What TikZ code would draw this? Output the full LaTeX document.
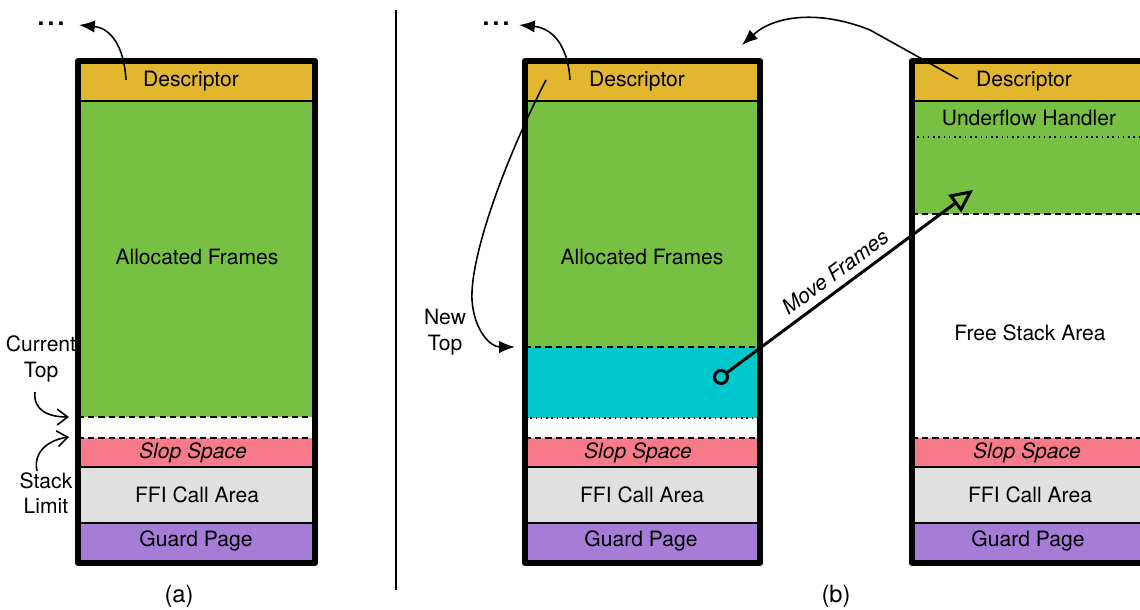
\documentclass[tikz,border=0pt]{standalone}
\usepackage{fontspec}
\setmainfont{TeX Gyre Heros}
\usetikzlibrary{arrows.meta}
\definecolor{descC}{HTML}{E3B630}
\definecolor{grnC}{HTML}{77C043}
\definecolor{cyanC}{HTML}{00C8CC}
\definecolor{pinkC}{HTML}{F67A8A}
\definecolor{grayC}{HTML}{E0E0E0}
\definecolor{purpC}{HTML}{A57DD6}
\begin{document}
\begin{tikzpicture}[x=0.02cm,y=-0.02cm,
  font=\fontsize{12}{14.5}\selectfont,
  sep/.style={line width=0.6pt},
  dsh/.style={line width=0.8pt,dash pattern=on 3.5pt off 2.3pt},
  dtt/.style={line width=0.9pt,dash pattern=on 0.9pt off 2.1pt},
  outer/.style={line width=3pt,line join=round},
  lbl/.style={inner sep=0pt,align=center},
  captext/.style={inner sep=0pt,font=\fontsize{13.5}{16}\selectfont},
  dotsty/.style={inner sep=0pt,font=\fontsize{14}{16}\bfseries},
  ptr/.style={line width=0.9pt,-{Latex[length=9pt,width=7pt]}},
  barb/.style={line width=0.9pt,-{Straight Barb[length=6pt,width=9pt]}},
]
\clip (0,0) rectangle (1140,609);
\useasboundingbox (0,0) rectangle (1140,609);

% ---------------- stack (a)
\fill[descC] (78,61) rectangle (315,101);
\fill[grnC] (78,101) rectangle (315,417);
\fill[pinkC] (78,438) rectangle (315,467);
\fill[grayC] (78,467) rectangle (315,523);
\fill[purpC] (78,523) rectangle (315,563);
\draw[sep] (78,101) -- (315,101) (78,467) -- (315,467) (78,523) -- (315,523);
\draw[dsh] (78,417) -- (315,417) (78,438) -- (315,438);
\draw[outer] (78,61) rectangle (315,563);
\node[lbl] (adesc) at (191,81) {Descriptor};
\node[lbl] (aalloc) at (197,257) {Allocated Frames};
\node[lbl] (aslop) at (193,453) {\itshape Slop Space};
\node[lbl] (affi) at (197,495) {FFI Call Area};
\node[lbl] (aguard) at (196,541) {Guard Page};
\node[dotsty] (adots) at (51,24) {.\kern1.8pt.\kern1.8pt.};
\node[lbl] (acur) at (41,359) {Current\\Top};
\node[lbl] (alim) at (46,493) {Stack\\Limit};
\node[captext] (acap) at (179,596) {(a)};
\coordinate (adescfrom) at (126,80);
\coordinate (adotsto) at (79,25);
\draw[ptr] (adescfrom) .. controls (124,45) and (110,28) .. (adotsto);
\coordinate (acurto) at (69,417);
\coordinate (alimto) at (69,437);
\draw[barb] (35,392) .. controls (33,410) and (48,417) .. (acurto);
\draw[barb] (37,471) .. controls (33,452) and (48,440) .. (alimto);

% divider
\draw[line width=1.4pt] (396,10) -- (396,590);

% ---------------- stack (b) middle
\fill[descC] (525,61) rectangle (760,101);
\fill[grnC] (525,101) rectangle (760,347);
\fill[cyanC] (525,347) rectangle (760,418);
\fill[pinkC] (525,438) rectangle (760,467);
\fill[grayC] (525,467) rectangle (760,523);
\fill[purpC] (525,523) rectangle (760,563);
\draw[sep] (525,101) -- (760,101) (525,467) -- (760,467) (525,523) -- (760,523);
\draw[dsh] (525,347) -- (760,347) (525,438) -- (760,438);
\draw[dtt] (525,418) -- (760,418);
\draw[outer] (525,61) rectangle (760,563);
\node[lbl] (bdesc) at (637,81) {Descriptor};
\node[lbl] (balloc) at (642,257) {Allocated Frames};
\node[lbl] (bslop) at (638,453) {\itshape Slop Space};
\node[lbl] (bffi) at (642,495) {FFI Call Area};
\node[lbl] (bguard) at (641,541) {Guard Page};
\node[dotsty] (bdots) at (496,24) {.\kern1.8pt.\kern1.8pt.};
\node[lbl] (bnew) at (445,332) {New\\Top};
\node[captext] (bcap) at (836,596) {(b)};
\coordinate (bdescfrom) at (570,80);
\coordinate (bdotsto) at (519,25);
\draw[ptr] (bdescfrom) .. controls (568,45) and (552,28) .. (bdotsto);
\coordinate (bnewfrom) at (546,80);
\coordinate (bnewto) at (515,347);
\draw[ptr] (bnewfrom) .. controls (500,170) and (470,260) .. (472,300) .. controls (474,330) and (490,347) .. (bnewto);

% ---------------- stack (b) right
\fill[descC] (912,61) rectangle (1160,101);
\fill[grnC] (912,101) rectangle (1160,214);
\fill[pinkC] (912,438) rectangle (1160,467);
\fill[grayC] (912,467) rectangle (1160,523);
\fill[purpC] (912,523) rectangle (1160,563);
\draw[sep] (912,101) -- (1160,101) (912,467) -- (1160,467) (912,523) -- (1160,523);
\draw[dsh] (912,214) -- (1160,214) (912,438) -- (1160,438);
\draw[dtt] (912,137) -- (1160,137);
\draw[outer] (912,61) rectangle (1170,563);
\node[lbl] (cdesc) at (1024,81) {Descriptor};
\node[lbl] (cunder) at (1029,118) {Underflow Handler};
\node[lbl] (cfree) at (1030,333) {Free Stack Area};
\node[lbl] (cslop) at (1027,453) {\itshape Slop Space};
\node[lbl] (cffi) at (1030,495) {FFI Call Area};
\node[lbl] (cguard) at (1028,541) {Guard Page};
\coordinate (cdescfrom) at (958,79);
\coordinate (cto) at (742,45);
\draw[ptr] (cdescfrom) -- (870,30) .. controls (820,10) and (775,15) .. (cto);

% Move frames
\coordinate (mvfrom) at (721,377);
\coordinate (mvto) at (973,190);
\draw[line width=1.7pt,-{Triangle[open,length=13pt,width=12pt,line width=1.7pt]}] (mvfrom) -- (mvto);
\draw[line width=1.7pt,fill=cyanC] (mvfrom) circle (6.5);
\node[lbl,rotate=36.6] (mvlbl) at (835,272) {\itshape Move Frames};
\end{tikzpicture}
\end{document}
